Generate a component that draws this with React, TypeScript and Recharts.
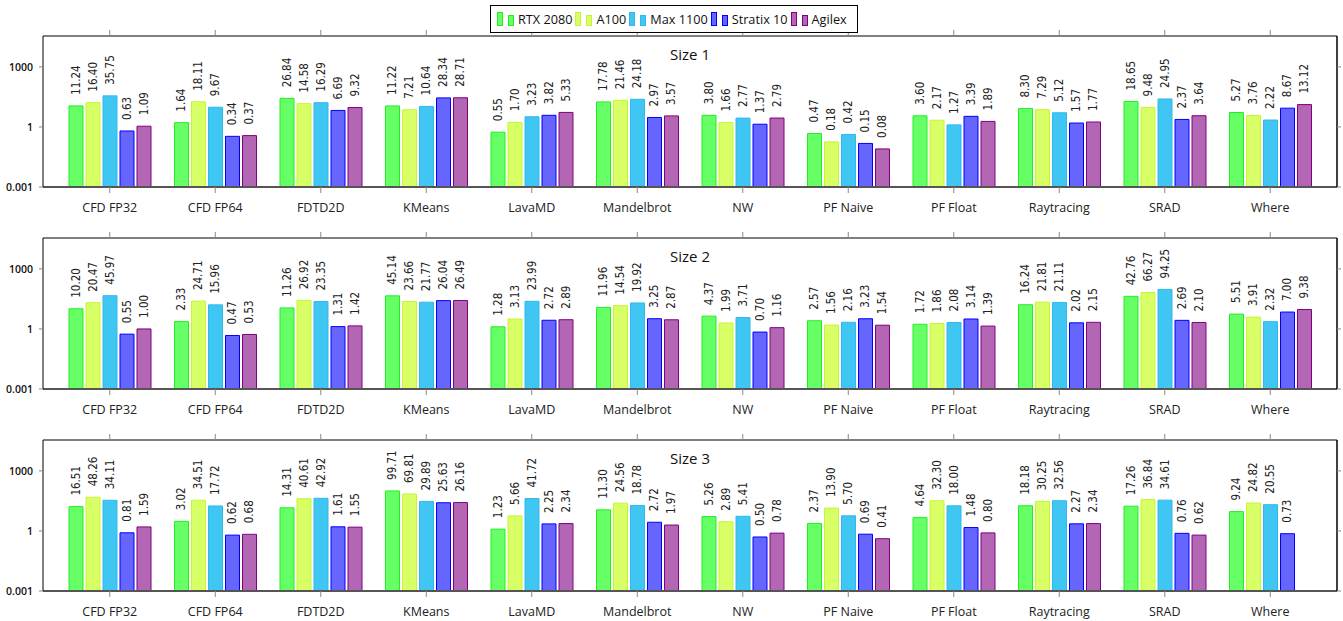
import React from "react";
import { Bar, BarChart, LabelList, XAxis, YAxis } from "recharts";

const categories = [
  "CFD FP32",
  "CFD FP64",
  "FDTD2D",
  "KMeans",
  "LavaMD",
  "Mandelbrot",
  "NW",
  "PF Naive",
  "PF Float",
  "Raytracing",
  "SRAD",
  "Where",
];

const devices = ["RTX 2080", "A100", "Max 1100", "Stratix 10", "Agilex"];
const fills = ["#66ff66", "#d9ff66", "#40c6f2", "#6666ff", "#b366b3"];
const strokes = ["#22ee22", "#c6f533", "#30b8ee", "#0000ff", "#800080"];

// Size 1
const size1Rtx = [11.24, 1.64, 26.84, 11.22, 0.55, 17.78, 3.8, 0.47, 3.6, 8.3, 18.65, 5.27];
const size1A100 = [16.4, 18.11, 14.58, 7.21, 1.7, 21.46, 1.66, 0.18, 2.17, 7.29, 9.48, 3.76];
const size1Max = [35.75, 9.67, 16.29, 10.64, 3.23, 24.18, 2.77, 0.42, 1.27, 5.12, 24.95, 2.22];
const size1Stratix = [0.63, 0.34, 6.69, 28.34, 3.82, 2.97, 1.37, 0.15, 3.39, 1.57, 2.37, 8.67];
const size1Agilex = [1.09, 0.37, 9.32, 28.71, 5.33, 3.57, 2.79, 0.08, 1.89, 1.77, 3.64, 13.12];

// Size 2
const size2Rtx = [10.2, 2.33, 11.26, 45.14, 1.28, 11.96, 4.37, 2.57, 1.72, 16.24, 42.76, 5.51];
const size2A100 = [20.47, 24.71, 26.92, 23.66, 3.13, 14.54, 1.99, 1.56, 1.86, 21.81, 66.27, 3.91];
const size2Max = [45.97, 15.96, 23.35, 21.77, 23.99, 19.92, 3.71, 2.16, 2.08, 21.11, 94.25, 2.32];
const size2Stratix = [0.55, 0.47, 1.31, 26.04, 2.72, 3.25, 0.7, 3.23, 3.14, 2.02, 2.69, 7.0];
const size2Agilex = [1.0, 0.53, 1.42, 26.49, 2.89, 2.87, 1.16, 1.54, 1.39, 2.15, 2.1, 9.38];

// Size 3 (no Agilex result for Where)
const size3Rtx = [16.51, 3.02, 14.31, 99.71, 1.23, 11.3, 5.26, 2.37, 4.64, 18.18, 17.26, 9.24];
const size3A100 = [48.26, 34.51, 40.61, 69.81, 5.66, 24.56, 2.89, 13.9, 32.3, 30.25, 36.84, 24.82];
const size3Max = [34.11, 17.72, 42.92, 29.89, 41.72, 18.78, 5.41, 5.7, 18.0, 32.56, 34.61, 20.55];
const size3Stratix = [0.81, 0.62, 1.61, 25.63, 2.25, 2.72, 0.5, 0.69, 1.48, 2.27, 0.76, 0.73];
const size3Agilex = [1.59, 0.68, 1.55, 26.16, 2.34, 1.97, 0.78, 0.41, 0.8, 2.34, 0.62, null];

const yTicks = [0.001, 1, 1000];

const keys = ["d0", "d1", "d2", "d3", "d4"];

function buildRows(series: (number | null)[][]) {
  return categories.map((name, i) => {
    const row: Record<string, any> = { name };
    series.forEach((s, j) => {
      row[keys[j]] = s[i];
    });
    return row;
  });
}

const panels = [
  { title: "Size 1", top: 0, height: 225, bottom: 8, rows: buildRows([size1Rtx, size1A100, size1Max, size1Stratix, size1Agilex]) },
  { title: "Size 2", top: 202, height: 225, bottom: 8, rows: buildRows([size2Rtx, size2A100, size2Max, size2Stratix, size2Agilex]) },
  { title: "Size 3", top: 404, height: 217, bottom: 0, rows: buildRows([size3Rtx, size3A100, size3Max, size3Stratix, size3Agilex]) },
];

const font = "'Open Sans', 'DejaVu Sans', sans-serif";
const valueFont = "'Liberation Sans Narrow', 'DejaVu Sans Condensed', 'Liberation Sans', sans-serif";

const ValueLabel = (props: any) => {
  const { x, y, width, value } = props;
  if (value == null) return null;
  const cx = x + width / 2;
  const ty = y - 11;
  return (
    <text
      x={cx}
      y={ty}
      transform={`rotate(-90 ${cx} ${ty})`}
      textAnchor="start"
      dominantBaseline="central"
      fontSize={11.5}
      fontFamily={valueFont}
      fill="#222"
    >
      {Number(value).toFixed(2)}
    </text>
  );
};

function Panel({ title, top, height, bottom, rows }: any) {
  return (
    <div style={{ position: "absolute", left: 0, top, width: 1343, height }}>
      <BarChart
        width={1343}
        height={height}
        data={rows}
        margin={{ top: 30, right: 0, bottom, left: 0 }}
        barSize={14}
        barGap={3}
      >
        <XAxis
          xAxisId="top"
          orientation="top"
          dataKey="name"
          height={6}
          padding={{ left: 14, right: 14 }}
          axisLine={{ stroke: "#000", strokeWidth: 1 }}
          tickLine={{ stroke: "#888" }}
          tickSize={6}
          tick={() => <g />}
        />
        <XAxis
          dataKey="name"
          height={30}
          padding={{ left: 14, right: 14 }}
          axisLine={{ stroke: "#555", strokeWidth: 2 }}
          tickLine={{ stroke: "#888" }}
          tickSize={6}
          tickMargin={10}
          tick={{ fill: "#222", fontSize: 12.5, fontFamily: font }}
          interval={0}
        />
        <YAxis
          yAxisId="left"
          scale="log"
          domain={[0.001, 35000]}
          allowDataOverflow
          ticks={yTicks}
          width={43}
          axisLine={{ stroke: "#000" }}
          tickLine={{ stroke: "#888" }}
          tickSize={4}
          tickMargin={6}
          tick={{ fill: "#111", fontSize: 10.5, fontFamily: font, fontWeight: 600 }}
          tickFormatter={(v: number) => String(v)}
        />
        <YAxis
          yAxisId="right"
          orientation="right"
          scale="log"
          domain={[0.001, 35000]}
          allowDataOverflow
          ticks={yTicks}
          width={6}
          axisLine={{ stroke: "#000", strokeWidth: 1.5 }}
          tickLine={{ stroke: "#888" }}
          tickSize={4}
          tick={() => <g />}
        />
        {keys.map((k, i) => (
          <Bar
            key={k}
            dataKey={k}
            name={devices[i]}
            yAxisId="left"
            fill={fills[i]}
            stroke={strokes[i]}
            strokeWidth={1}
            isAnimationActive={false}
          >
            <LabelList dataKey={k} content={ValueLabel} />
          </Bar>
        ))}
      </BarChart>
      <div
        style={{
          position: "absolute",
          left: 43,
          width: 1294,
          top: 44,
          textAlign: "center",
          fontFamily: font,
          fontSize: 15,
          lineHeight: "20px",
          color: "#111",
        }}
      >
        {title}
      </div>
    </div>
  );
}

function LegendBox() {
  return (
    <div
      style={{
        position: "absolute",
        left: 490,
        top: 5,
        width: 368,
        height: 28,
        boxSizing: "border-box",
        border: "1px solid #000",
        background: "#fff",
        display: "flex",
        alignItems: "center",
        paddingLeft: 6,
        fontFamily: font,
        fontSize: 12.7,
        color: "#111",
        whiteSpace: "nowrap",
        zIndex: 2,
      }}
    >
      {devices.map((d, i) => (
        <div key={d} style={{ display: "flex", alignItems: "center", marginRight: 3, flexShrink: 0 }}>
          <svg width={20} height={16} style={{ display: "block" }}>
            <rect x={0.5} y={1.5} width={5} height={13} fill={fills[i]} stroke={strokes[i]} />
            <rect x={11.5} y={4.5} width={5} height={10} fill={fills[i]} stroke={strokes[i]} />
          </svg>
          <span style={{ marginLeft: 1 }}>{d}</span>
        </div>
      ))}
    </div>
  );
}

export default function App() {
  return (
    <div
      style={{
        position: "absolute",
        left: 0,
        top: 0,
        width: 1343,
        height: 621,
        background: "#fff",
        overflow: "hidden",
      }}
    >
      {panels.map((p) => (
        <Panel key={p.title} {...p} />
      ))}
      <LegendBox />
    </div>
  );
}
